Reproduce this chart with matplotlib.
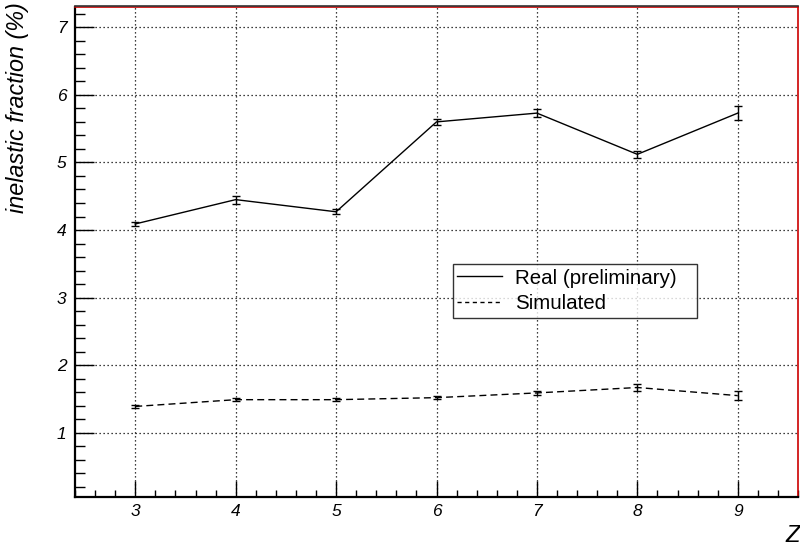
import matplotlib
matplotlib.use("Agg")
import matplotlib.pyplot as plt
from matplotlib.ticker import MultipleLocator
from matplotlib.lines import Line2D

plt.rcParams['font.family'] = ['Liberation Sans', 'DejaVu Sans']

# Nuclear charge Z and inelastic fractions (%)
z_values = [3, 4, 5, 6, 7, 8, 9]
real_frac = [4.09, 4.45, 4.27, 5.60, 5.73, 5.12, 5.73]
real_err = [0.03, 0.06, 0.04, 0.05, 0.06, 0.05, 0.10]
sim_frac = [1.39, 1.49, 1.49, 1.52, 1.59, 1.67, 1.55]
sim_err = [0.02, 0.02, 0.02, 0.02, 0.03, 0.05, 0.07]

fig = plt.figure(figsize=(8.0, 5.48), dpi=100)
ax = fig.add_axes([75 / 800, 1 - 497 / 548, 723 / 800, 490 / 548])

ax.errorbar(z_values, real_frac, yerr=real_err, color='black', lw=1.0,
            elinewidth=1.0, capsize=3, capthick=1.0, zorder=3)
ax.errorbar(z_values, sim_frac, yerr=sim_err, color='black', lw=1.0,
            ls=(0, (5, 3)), elinewidth=1.0, capsize=3, capthick=1.0, zorder=3)

ax.set_xlim(2.4, 9.6)
ax.set_ylim(0.05, 7.3)

ax.xaxis.set_major_locator(MultipleLocator(1))
ax.xaxis.set_minor_locator(MultipleLocator(0.2))
ax.yaxis.set_major_locator(MultipleLocator(1))
ax.yaxis.set_minor_locator(MultipleLocator(0.2))
ax.set_xticks([3, 4, 5, 6, 7, 8, 9])

ax.grid(True, which='major', color='black', lw=0.9, ls=(0, (1, 2.2)))
ax.set_axisbelow(True)

ax.tick_params(axis='both', which='both', direction='in', color='black',
               width=1.0, labelsize=12.5, top=False, right=False)
ax.tick_params(axis='y', which='major', length=14, pad=6)
ax.tick_params(axis='y', which='minor', length=7)
ax.tick_params(axis='x', which='major', length=11.5, pad=5)
ax.tick_params(axis='x', which='minor', length=5)
for lab in ax.get_xticklabels() + ax.get_yticklabels():
    lab.set_fontstyle('italic')

# Frame: red pad border with black axes on left and bottom
for side in ['top', 'right']:
    ax.spines[side].set_color('#cc0000')
    ax.spines[side].set_linewidth(1.2)
for side in ['left', 'bottom']:
    ax.spines[side].set_color('black')
    ax.spines[side].set_linewidth(1.6)
fig.add_artist(Line2D([75 / 800, 798 / 800], [1 - 6 / 548, 1 - 6 / 548],
                      transform=fig.transFigure, color='#333333', lw=1.2))

fig.text(18 / 800, 1 - 2 / 548, 'inelastic fraction (%)', rotation=90,
         ha='center', va='top', fontsize=16.8, fontstyle='italic')
fig.text(800 / 800, 1 - 535 / 548, 'Z', ha='right', va='center',
         fontsize=17, fontstyle='italic')

handles = [Line2D([], [], color='black', lw=1.0),
           Line2D([], [], color='black', lw=1.0, ls=(0, (3, 2.5)))]
leg = ax.legend(handles, ['Real (preliminary)', 'Simulated'],
                loc='upper left', mode='expand',
                bbox_to_anchor=(0.5224, 0.36, 0.338, 0.1155),
                fontsize=14.8, frameon=True, fancybox=False,
                edgecolor='black', handlelength=2.2, handletextpad=0.6,
                borderpad=0.22, labelspacing=0.33, borderaxespad=0)
leg.get_frame().set_linewidth(1.0)

fig.savefig('out.png', dpi=100)
